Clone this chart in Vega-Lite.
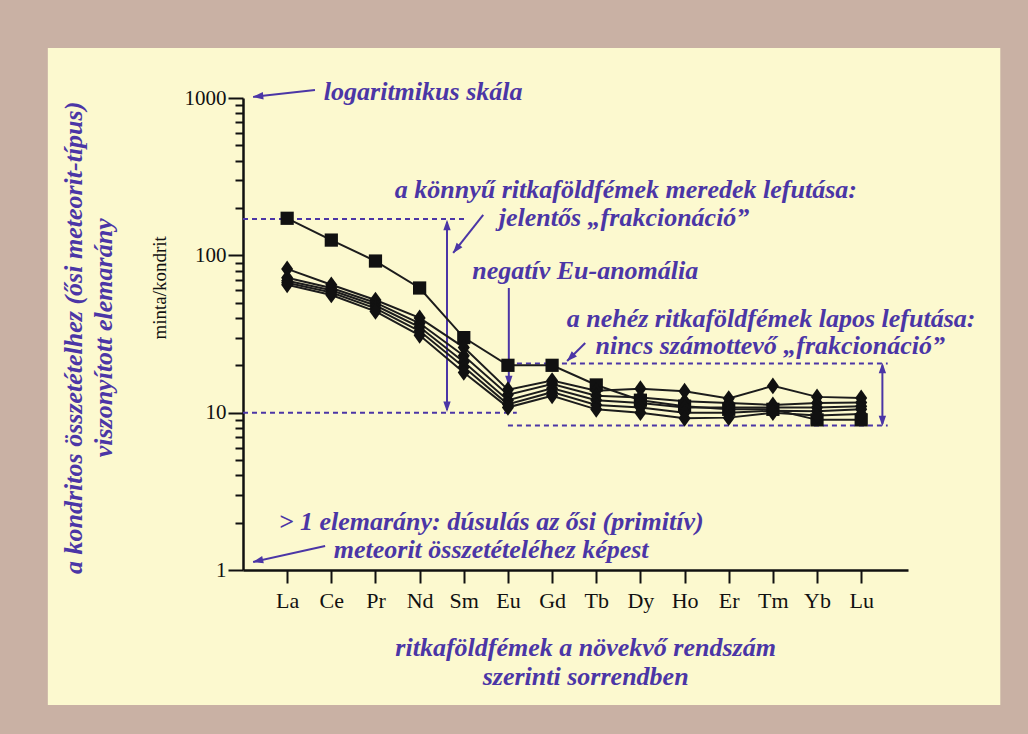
{
  "$schema": "https://vega.github.io/schema/vega-lite/v6.json",
  "width": 665,
  "height": 472,
  "autosize": {"type": "none"},
  "padding": {"left": 243, "top": 98, "right": 120, "bottom": 164},
  "background": "#fcf9cf",
  "config": {
    "view": {"stroke": null},
    "axis": {"grid": false, "domainColor": "#111111", "tickColor": "#111111"}
  },
  "datasets": {
    "ree": [
      {"series": "S", "kind": "square", "element": "La", "n": 1, "value": 172},
      {"series": "S", "kind": "square", "element": "Ce", "n": 2, "value": 125},
      {"series": "S", "kind": "square", "element": "Pr", "n": 3, "value": 92},
      {"series": "S", "kind": "square", "element": "Nd", "n": 4, "value": 62},
      {"series": "S", "kind": "square", "element": "Sm", "n": 5, "value": 30},
      {"series": "S", "kind": "square", "element": "Eu", "n": 6, "value": 20},
      {"series": "S", "kind": "square", "element": "Gd", "n": 7, "value": 20},
      {"series": "S", "kind": "square", "element": "Tb", "n": 8, "value": 15},
      {"series": "S", "kind": "square", "element": "Dy", "n": 9, "value": 12},
      {"series": "S", "kind": "square", "element": "Ho", "n": 10, "value": 11},
      {"series": "S", "kind": "square", "element": "Er", "n": 11, "value": 10.5},
      {"series": "S", "kind": "square", "element": "Tm", "n": 12, "value": 10.5},
      {"series": "S", "kind": "square", "element": "Yb", "n": 13, "value": 9},
      {"series": "S", "kind": "square", "element": "Lu", "n": 14, "value": 9},
      {"series": "D1", "kind": "diamond", "element": "La", "n": 1, "value": 82},
      {"series": "D1", "kind": "diamond", "element": "Ce", "n": 2, "value": 65},
      {"series": "D1", "kind": "diamond", "element": "Pr", "n": 3, "value": 52},
      {"series": "D1", "kind": "diamond", "element": "Nd", "n": 4, "value": 40},
      {"series": "D1", "kind": "diamond", "element": "Sm", "n": 5, "value": 26},
      {"series": "D1", "kind": "diamond", "element": "Eu", "n": 6, "value": 14},
      {"series": "D1", "kind": "diamond", "element": "Gd", "n": 7, "value": 16},
      {"series": "D1", "kind": "diamond", "element": "Tb", "n": 8, "value": 13.8},
      {"series": "D1", "kind": "diamond", "element": "Dy", "n": 9, "value": 14.2},
      {"series": "D1", "kind": "diamond", "element": "Ho", "n": 10, "value": 13.7},
      {"series": "D1", "kind": "diamond", "element": "Er", "n": 11, "value": 12.3},
      {"series": "D1", "kind": "diamond", "element": "Tm", "n": 12, "value": 14.8},
      {"series": "D1", "kind": "diamond", "element": "Yb", "n": 13, "value": 12.6},
      {"series": "D1", "kind": "diamond", "element": "Lu", "n": 14, "value": 12.4},
      {"series": "D2", "kind": "diamond", "element": "La", "n": 1, "value": 72},
      {"series": "D2", "kind": "diamond", "element": "Ce", "n": 2, "value": 62},
      {"series": "D2", "kind": "diamond", "element": "Pr", "n": 3, "value": 50},
      {"series": "D2", "kind": "diamond", "element": "Nd", "n": 4, "value": 37},
      {"series": "D2", "kind": "diamond", "element": "Sm", "n": 5, "value": 23},
      {"series": "D2", "kind": "diamond", "element": "Eu", "n": 6, "value": 13},
      {"series": "D2", "kind": "diamond", "element": "Gd", "n": 7, "value": 15.2},
      {"series": "D2", "kind": "diamond", "element": "Tb", "n": 8, "value": 12.8},
      {"series": "D2", "kind": "diamond", "element": "Dy", "n": 9, "value": 12.5},
      {"series": "D2", "kind": "diamond", "element": "Ho", "n": 10, "value": 11.8},
      {"series": "D2", "kind": "diamond", "element": "Er", "n": 11, "value": 11.5},
      {"series": "D2", "kind": "diamond", "element": "Tm", "n": 12, "value": 11.2},
      {"series": "D2", "kind": "diamond", "element": "Yb", "n": 13, "value": 11.5},
      {"series": "D2", "kind": "diamond", "element": "Lu", "n": 14, "value": 11.6},
      {"series": "D3", "kind": "diamond", "element": "La", "n": 1, "value": 69},
      {"series": "D3", "kind": "diamond", "element": "Ce", "n": 2, "value": 60},
      {"series": "D3", "kind": "diamond", "element": "Pr", "n": 3, "value": 48},
      {"series": "D3", "kind": "diamond", "element": "Nd", "n": 4, "value": 35},
      {"series": "D3", "kind": "diamond", "element": "Sm", "n": 5, "value": 21},
      {"series": "D3", "kind": "diamond", "element": "Eu", "n": 6, "value": 12},
      {"series": "D3", "kind": "diamond", "element": "Gd", "n": 7, "value": 14.3},
      {"series": "D3", "kind": "diamond", "element": "Tb", "n": 8, "value": 12},
      {"series": "D3", "kind": "diamond", "element": "Dy", "n": 9, "value": 11.5},
      {"series": "D3", "kind": "diamond", "element": "Ho", "n": 10, "value": 10.8},
      {"series": "D3", "kind": "diamond", "element": "Er", "n": 11, "value": 10.8},
      {"series": "D3", "kind": "diamond", "element": "Tm", "n": 12, "value": 10.8},
      {"series": "D3", "kind": "diamond", "element": "Yb", "n": 13, "value": 10.8},
      {"series": "D3", "kind": "diamond", "element": "Lu", "n": 14, "value": 11},
      {"series": "D4", "kind": "diamond", "element": "La", "n": 1, "value": 67},
      {"series": "D4", "kind": "diamond", "element": "Ce", "n": 2, "value": 58},
      {"series": "D4", "kind": "diamond", "element": "Pr", "n": 3, "value": 46},
      {"series": "D4", "kind": "diamond", "element": "Nd", "n": 4, "value": 33},
      {"series": "D4", "kind": "diamond", "element": "Sm", "n": 5, "value": 19.5},
      {"series": "D4", "kind": "diamond", "element": "Eu", "n": 6, "value": 11.3},
      {"series": "D4", "kind": "diamond", "element": "Gd", "n": 7, "value": 13.5},
      {"series": "D4", "kind": "diamond", "element": "Tb", "n": 8, "value": 11.2},
      {"series": "D4", "kind": "diamond", "element": "Dy", "n": 9, "value": 10.8},
      {"series": "D4", "kind": "diamond", "element": "Ho", "n": 10, "value": 10},
      {"series": "D4", "kind": "diamond", "element": "Er", "n": 11, "value": 10},
      {"series": "D4", "kind": "diamond", "element": "Tm", "n": 12, "value": 10.3},
      {"series": "D4", "kind": "diamond", "element": "Yb", "n": 13, "value": 10.2},
      {"series": "D4", "kind": "diamond", "element": "Lu", "n": 14, "value": 10.5},
      {"series": "D5", "kind": "diamond", "element": "La", "n": 1, "value": 65},
      {"series": "D5", "kind": "diamond", "element": "Ce", "n": 2, "value": 56},
      {"series": "D5", "kind": "diamond", "element": "Pr", "n": 3, "value": 44},
      {"series": "D5", "kind": "diamond", "element": "Nd", "n": 4, "value": 31},
      {"series": "D5", "kind": "diamond", "element": "Sm", "n": 5, "value": 18},
      {"series": "D5", "kind": "diamond", "element": "Eu", "n": 6, "value": 10.8},
      {"series": "D5", "kind": "diamond", "element": "Gd", "n": 7, "value": 12.8},
      {"series": "D5", "kind": "diamond", "element": "Tb", "n": 8, "value": 10.5},
      {"series": "D5", "kind": "diamond", "element": "Dy", "n": 9, "value": 10},
      {"series": "D5", "kind": "diamond", "element": "Ho", "n": 10, "value": 9.2},
      {"series": "D5", "kind": "diamond", "element": "Er", "n": 11, "value": 9.3},
      {"series": "D5", "kind": "diamond", "element": "Tm", "n": 12, "value": 10},
      {"series": "D5", "kind": "diamond", "element": "Yb", "n": 13, "value": 9.6},
      {"series": "D5", "kind": "diamond", "element": "Lu", "n": 14, "value": 9.8}
    ],
    "frame": [
      {"x": -12, "x2": -4.42, "y": 0.00001, "y2": 1000000},
      {"x": 17.15, "x2": 30, "y": 0.00001, "y2": 1000000},
      {"x": -12, "x2": 30, "y": 2082, "y2": 1000000},
      {"x": -12, "x2": 30, "y": 0.00001, "y2": 0.1386}
    ],
    "dashes": [
      {"x": 0, "x2": 5.03, "y": 170, "y2": 170},
      {"x": 0, "x2": 6.2, "y": 10, "y2": 10},
      {"x": 6.0, "x2": 14.6, "y": 20.5, "y2": 20.5},
      {"x": 6.0, "x2": 14.6, "y": 8.3, "y2": 8.3}
    ],
    "shafts": [
      {"x": 4.62, "x2": 4.62, "y": 163, "y2": 10.4},
      {"x": 14.48, "x2": 14.48, "y": 20, "y2": 8.5},
      {"x": 6.02, "x2": 6.02, "y": 62, "y2": 15.5},
      {"x": 1.63, "x2": 0.23, "y": 1125, "y2": 1016},
      {"x": 5.44, "x2": 4.76, "y": 181, "y2": 103.6},
      {"x": 7.75, "x2": 7.34, "y": 27.7, "y2": 21.3},
      {"x": 1.86, "x2": 0.23, "y": 1.42, "y2": 1.124}
    ],
    "notes": [
      {"label": "logaritmikus skála", "x": 4.08, "y": 1094},
      {"label": "a könnyű ritkaföldfémek meredek lefutása:", "x": 8.67, "y": 260},
      {"label": "jelentős „frakcionáció”", "x": 8.63, "y": 173},
      {"label": "negatív Eu-anomália", "x": 7.75, "y": 79.6},
      {"label": "a nehéz ritkaföldfémek lapos lefutása:", "x": 11.96, "y": 39.4},
      {"label": "nincs számottevő „frakcionáció”", "x": 11.94, "y": 26.6},
      {"label": "> 1 elemarány: dúsulás az ősi (primitív)", "x": 5.62, "y": 2.02},
      {"label": "meteorit összetételéhez képest", "x": 5.62, "y": 1.34},
      {"label": "ritkaföldfémek a növekvő rendszám", "x": 7.76, "y": 0.319},
      {"label": "szerinti sorrendben", "x": 7.76, "y": 0.209}
    ],
    "vnotes": [
      {"label": "a kondritos összetételhez (ősi meteorit-típus)", "x": -3.83, "y": 29.9},
      {"label": "viszonyított elemarány", "x": -3.15, "y": 29.9}
    ]
  },
  "resolve": {"axis": {"y": "independent"}},
  "layer": [
    {
      "data": {"name": "frame"},
      "mark": {"type": "rect", "fill": "#c9b1a4"},
      "encoding": {
        "x": {"field": "x", "type": "quantitative"},
        "x2": {"field": "x2"},
        "y": {
          "field": "y",
          "type": "quantitative",
          "scale": {"type": "log"},
          "axis": {
            "orient": "left",
            "values": [2, 3, 4, 5, 6, 7, 8, 9, 20, 30, 40, 50, 60, 70, 80, 90, 200, 300, 400, 500, 600, 700, 800, 900],
            "labels": false,
            "domain": false,
            "tickSize": 8,
            "tickWidth": 2,
            "tickColor": "#111111",
            "title": null
          }
        },
        "y2": {"field": "y2"}
      }
    },
    {
      "data": {"name": "dashes"},
      "mark": {"type": "rule", "color": "#4b36a6", "strokeWidth": 2, "strokeDash": [5, 4]},
      "encoding": {
        "x": {"field": "x", "type": "quantitative"},
        "x2": {"field": "x2"},
        "y": {"field": "y", "type": "quantitative", "axis": null},
        "y2": {"field": "y2"}
      }
    },
    {
      "data": {"name": "shafts"},
      "mark": {"type": "rule", "color": "#4b36a6", "strokeWidth": 2},
      "encoding": {
        "x": {"field": "x", "type": "quantitative"},
        "x2": {"field": "x2"},
        "y": {"field": "y", "type": "quantitative", "axis": null},
        "y2": {"field": "y2"}
      }
    },
    {
      "data": {"values": [{"x": 4.62, "y": 156}, {"x": 14.48, "y": 19.2}]},
      "mark": {"type": "point", "shape": "M0,-1L0.7,1L-0.7,1Z", "filled": true, "color": "#4b36a6", "opacity": 1, "size": 110, "angle": 0},
      "encoding": {
        "x": {"field": "x", "type": "quantitative"},
        "y": {"field": "y", "type": "quantitative", "axis": null}
      }
    },
    {
      "data": {"values": [{"x": 4.62, "y": 10.9}, {"x": 14.48, "y": 8.86}, {"x": 6.02, "y": 15.9}]},
      "mark": {"type": "point", "shape": "M0,-1L0.7,1L-0.7,1Z", "filled": true, "color": "#4b36a6", "opacity": 1, "size": 110, "angle": 180},
      "encoding": {
        "x": {"field": "x", "type": "quantitative"},
        "y": {"field": "y", "type": "quantitative", "axis": null}
      }
    },
    {
      "data": {"values": [{"x": 0.34, "y": 1025}]},
      "mark": {"type": "point", "shape": "M0,-1L0.7,1L-0.7,1Z", "filled": true, "color": "#4b36a6", "opacity": 1, "size": 110, "angle": 264},
      "encoding": {
        "x": {"field": "x", "type": "quantitative"},
        "y": {"field": "y", "type": "quantitative", "axis": null}
      }
    },
    {
      "data": {"values": [{"x": 4.83, "y": 109.6}]},
      "mark": {"type": "point", "shape": "M0,-1L0.7,1L-0.7,1Z", "filled": true, "color": "#4b36a6", "opacity": 1, "size": 110, "angle": 218},
      "encoding": {
        "x": {"field": "x", "type": "quantitative"},
        "y": {"field": "y", "type": "quantitative", "axis": null}
      }
    },
    {
      "data": {"values": [{"x": 7.42, "y": 22.4}]},
      "mark": {"type": "point", "shape": "M0,-1L0.7,1L-0.7,1Z", "filled": true, "color": "#4b36a6", "opacity": 1, "size": 110, "angle": 225},
      "encoding": {
        "x": {"field": "x", "type": "quantitative"},
        "y": {"field": "y", "type": "quantitative", "axis": null}
      }
    },
    {
      "data": {"values": [{"x": 0.337, "y": 1.143}]},
      "mark": {"type": "point", "shape": "M0,-1L0.7,1L-0.7,1Z", "filled": true, "color": "#4b36a6", "opacity": 1, "size": 110, "angle": 257},
      "encoding": {
        "x": {"field": "x", "type": "quantitative"},
        "y": {"field": "y", "type": "quantitative", "axis": null}
      }
    },
    {
      "data": {"name": "ree"},
      "mark": {"type": "line", "color": "#1c1c1c", "strokeWidth": 2},
      "encoding": {
        "x": {
          "field": "n",
          "type": "quantitative",
          "scale": {"domain": [0, 15.06], "nice": false, "zero": false},
          "axis": {
            "orient": "bottom",
            "values": [1, 2, 3, 4, 5, 6, 7, 8, 9, 10, 11, 12, 13, 14],
            "labelExpr": "['','La','Ce','Pr','Nd','Sm','Eu','Gd','Tb','Dy','Ho','Er','Tm','Yb','Lu'][datum.value]",
            "title": null,
            "grid": false,
            "tickSize": 13,
            "tickWidth": 2,
            "tickColor": "#111111",
            "domainWidth": 2.5,
            "domainColor": "#111111",
            "labelFont": "Liberation Serif",
            "labelFontSize": 22,
            "labelColor": "#111111",
            "labelPadding": 7,
            "labelFlush": false,
            "labelOverlap": false
          }
        },
        "y": {
          "field": "value",
          "type": "quantitative",
          "scale": {"type": "log", "domain": [1, 1000], "nice": false},
          "axis": {
            "orient": "left",
            "values": [1, 10, 100, 1000],
            "format": "d",
            "tickSize": 15,
            "tickWidth": 2,
            "tickColor": "#111111",
            "domainWidth": 2.5,
            "domainColor": "#111111",
            "labelFont": "Liberation Serif",
            "labelFontSize": 21,
            "labelColor": "#111111",
            "labelPadding": 2,
            "labelFlush": false,
            "title": null
          }
        },
        "detail": {"field": "series"}
      }
    },
    {
      "data": {"name": "ree"},
      "mark": {"type": "point", "filled": true, "opacity": 1, "color": "#111111"},
      "encoding": {
        "x": {"field": "n", "type": "quantitative"},
        "y": {"field": "value", "type": "quantitative", "axis": null},
        "shape": {
          "field": "kind",
          "type": "nominal",
          "scale": {"domain": ["square", "diamond"], "range": ["square", "M0,-1L0.72,0L0,1L-0.72,0Z"]},
          "legend": null
        },
        "size": {
          "field": "kind",
          "type": "nominal",
          "scale": {"domain": ["square", "diamond"], "range": [175, 280]},
          "legend": null
        }
      }
    },
    {
      "data": {"values": [{"label": "minta/kondrit", "x": -1.88, "y": 62.1}]},
      "mark": {"type": "text", "font": "Liberation Serif", "fontSize": 19, "color": "#111111", "align": "center", "baseline": "middle", "angle": 270},
      "encoding": {
        "x": {"field": "x", "type": "quantitative"},
        "y": {"field": "y", "type": "quantitative", "axis": null},
        "text": {"field": "label"}
      }
    },
    {
      "data": {"name": "notes"},
      "mark": {"type": "text", "font": "Liberation Serif", "fontStyle": "italic", "fontWeight": "bold", "fontSize": 26, "color": "#4b36a6", "align": "center", "baseline": "middle"},
      "encoding": {
        "x": {"field": "x", "type": "quantitative"},
        "y": {"field": "y", "type": "quantitative", "axis": null},
        "text": {"field": "label"}
      }
    },
    {
      "data": {"name": "vnotes"},
      "mark": {"type": "text", "font": "Liberation Serif", "fontStyle": "italic", "fontWeight": "bold", "fontSize": 26, "color": "#4b36a6", "align": "center", "baseline": "middle", "angle": 270},
      "encoding": {
        "x": {"field": "x", "type": "quantitative"},
        "y": {"field": "y", "type": "quantitative", "axis": null},
        "text": {"field": "label"}
      }
    }
  ]
}
